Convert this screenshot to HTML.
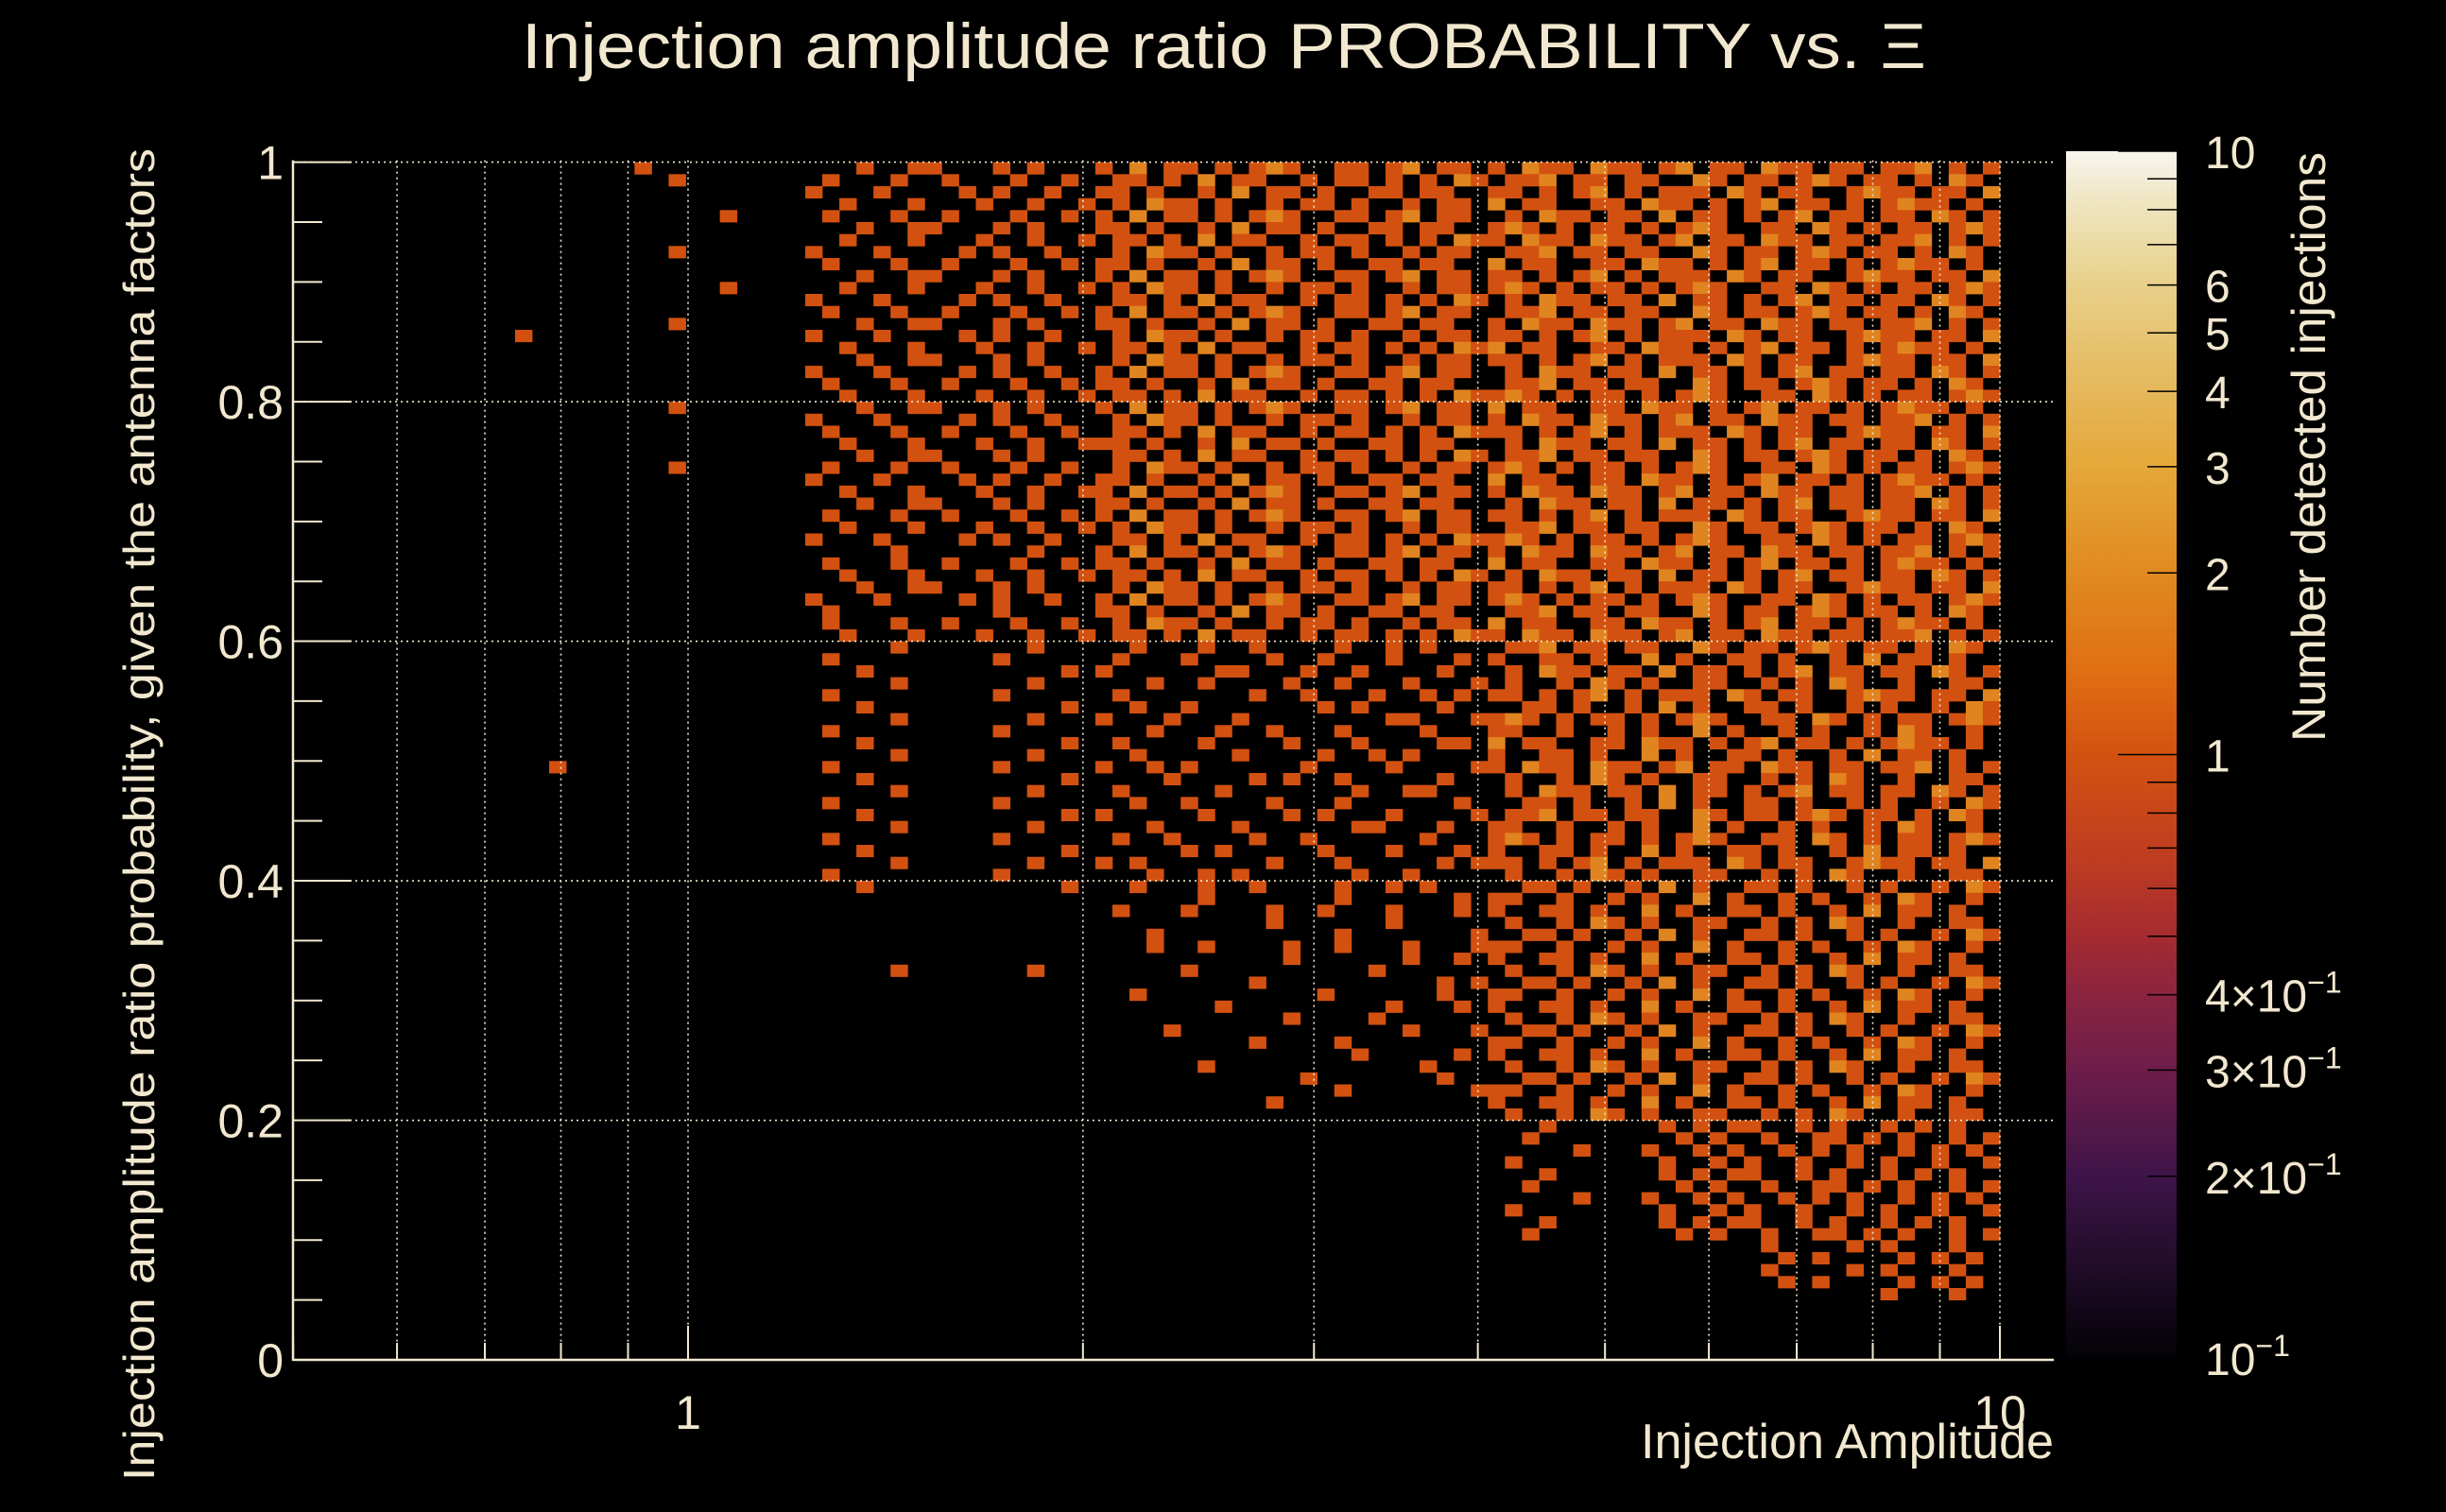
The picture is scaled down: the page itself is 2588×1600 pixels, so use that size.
<!DOCTYPE html>
<html><head><meta charset="utf-8"><style>
html,body{margin:0;padding:0;background:#000;}
svg{display:block}
text{font-family:"Liberation Sans",sans-serif;fill:#f2e8cf}
</style></head><body>
<svg id="chart" width="2588" height="1600" viewBox="0 0 2588 1600" xmlns="http://www.w3.org/2000/svg">
<rect width="2588" height="1600" fill="#000"/>
<g id="cells"></g>
<g id="grid"></g>
<g id="axes"></g>
<g id="cbar"></g>
<text x="1295" y="72" font-size="68" text-anchor="middle" textLength="1486" lengthAdjust="spacingAndGlyphs">Injection amplitude ratio PROBABILITY vs.  Ξ</text>
<text transform="translate(163,862) rotate(-90)" font-size="46" text-anchor="middle" textLength="1410" lengthAdjust="spacingAndGlyphs">Injection amplitude ratio probability, given the antenna factors</text>
<text x="2173" y="1543" font-size="52" text-anchor="end" textLength="437" lengthAdjust="spacingAndGlyphs">Injection Amplitude</text>
<text transform="translate(2460,473) rotate(-90)" font-size="50" text-anchor="middle" textLength="624" lengthAdjust="spacingAndGlyphs">Number detected injections</text>
</svg>
<script>
// ---- data ----
const xMin = 0.5, xMax = 10, nX = 100;
const yMin = 0, yMax = 1, nY = 100;
const xTickValues = [1, 10];
const xTickLabels = ["1", "10"];
const yTickValues = [0, 0.2, 0.4, 0.6, 0.8, 1];
const yTickLabels = ["0", "0.2", "0.4", "0.6", "0.8", "1"];
const zTickValues = [10, 6, 5, 4, 3, 2, 1, 0.4, 0.3, 0.2, 0.1];
const zTickLabels = ["10", "6", "5", "4", "3", "2", "1", "4×10", "3×10", "2×10", "10"];
const zTickExp = ["", "", "", "", "", "", "", "−1", "−1", "−1", "−1"];
// counts per bin; rows from top (y=1) to bottom (y=0), columns from x=0.5 to x=10
const counts = [
"00000000000000000000|1000000000|00010011000101000|10201101012100110120110|102110211012011021101101120101",
"00000000000000000000|0010000000|01000100100010010|01101020110010110101021|011201101100210110121011010210",
"00000000000000000000|0000000000|10001000010100100|11010010201101001101100|110101201011102101100121101102",
"00000000000000000000|0000000000|00100010001001001|01021101001011010010110|201100110211010120110101211010",
"00000000000000000000|0000010000|01000100100010010|10201101012100110120110|010211011020110101201101102101",
"00000000000000000000|0000000000|00010011000101000|11010010201101001101100|121010110101210011021010110121",
"00000000000000000000|0000000000|00100010001001001|01101020110010110101021|102110211012011021101101120101",
"00000000000000000000|0010000000|10001000010100100|01021101001011010010110|011201101100210110121011010210",
"00000000000000000000|0000000000|01000100100010010|11010010201101001101100|201100110211010120110101211010",
"00000000000000000000|0000000000|00010011000101000|10201101012100110120110|110101201011102101100121101102",
"00000000000000000000|0000010000|00100010001001001|01021101001011010010110|121010110101210011021010110121",
"00000000000000000000|0000000000|10001000010100100|01101020110010110101021|010211011020110101201101102101",
"00000000000000000000|0000000000|01000100100010010|10201101012100110120110|011201101100210110121011010210",
"00000000000000000000|0010000000|00010011000101000|11010010201101001101100|102110211012011021101101120101",
"00000000000001000000|0000000000|10001000010100100|01021101001011010010110|110101201011102101100121101102",
"00000000000000000000|0000000000|00100010001001001|01101020110010110101021|201100110211010120110101211010",
"00000000000000000000|0000000000|00010011000101000|01021101001011010010110|110101201011102101100121101102",
"00000000000000000000|0000000000|10001000010100100|10201101012100110120110|010211011020110101201101102101",
"00000000000000000000|0000000000|01000100100010010|11010010201101001101100|011201101100210110121011010210",
"00000000000000000000|0000000000|00100010001001001|01101020110010110101021|121010110101210011021010110121",
"00000000000000000000|0010000000|00010011000101000|10201101012100110120110|201100110211010120110101211010",
"00000000000000000000|0000000000|10001000010100100|01021101001011010010110|102110211012011021101101120101",
"00000000000000000000|0000000000|01000100100010010|01101020110010110101021|110101201011102101100121101102",
"00000000000000000000|0000000000|00100010001001001|11010010201101001101100|010211011020110101201101102101",
"00000000000000000000|0000000000|00010011000101000|01101020110010110101021|011201101100210110121011010210",
"00000000000000000000|0010000000|01000100100010010|01021101001011010010110|121010110101210011021010110121",
"00000000000000000000|0000000000|10001000010100100|11010010201101001101100|201100110211010120110101211010",
"00000000000000000000|0000000000|00100010001001001|10201101012100110120110|102110211012011021101101120101",
"00000000000000000000|0000000000|00010011000101000|11010010201101001101100|010211011020110101201101102101",
"00000000000000000000|0000000000|01000100100010010|10201101012100110120110|110101201011102101100121101102",
"00000000000000000000|0000000000|00100010001001001|01021101001011010010110|011201101100210110121011010210",
"00000000000000000000|0000000000|10001000010100100|01101020110010110101021|121010110101210011021010110121",
"00000000000000000000|0000000000|00000100000001000|10201101012100110120110|102110211012011021101101120101",
"00000000000000000000|0000000000|01000100100010010|11010010201101001101100|201100110211010120110101211010",
"00000000000000000000|0000000000|00100010001001001|01101020110010110101021|010211011020110101201101102101",
"00000000000000000000|0000000000|00010011000101000|01021101001011010010110|110101201011102101100121101102",
"00000000000000000000|0000000000|10001000010100100|10201101012100110120110|121010110101210011021010110121",
"00000000000000000000|0000000000|01000000000100000|11010010201101001101100|011201101100210110121011010210",
"00000000000000000000|0000000000|01000100100010010|01021101001011010010110|201100110211010120110101211010",
"00000000000000000000|0000000000|00100010001001001|01101020110010110101021|102110211012011021101101120101",
"00000000000000000000|0000000000|00000100000001000|00100010010000100101000|011201101100210110121011010210",
"00000000000000000000|0000000000|01000000000100000|01000100001001000100010|100110100201001101001020110100",
"00000000000000000000|0000000000|00010000000000010|10000001100010010000100|010211011020110101201101102101",
"00000000000000000000|0000000000|00000100000001000|00010010000100100010001|010010210100110010102100100110",
"00000000000000000000|0000000000|01000000000100000|01000000010010001001010|110101201011102101100121101102",
"00000000000000000000|0000000000|00010000000000010|00100100000001010000100|001101001020100110100101001021",
"00000000000000000000|0000000000|00000100000001000|10001000100000000110001|121010110101210011021010110121",
"00000000000000000000|0000000000|01000000000100000|00010001001000100001000|110010010100201001010010210010",
"00000000000000000000|0000000000|00010000000000010|01000010000100010000110|201100110211010120110101211010",
"00000000000000000000|0000000000|00000100000001000|00100000100001001010000|100110100201001101001020110100",
"00000000000000010000|0000000000|01000000000100000|10010100000010000100001|102110211012011021101101120101",
"00000000000000000000|0000000000|00010000000000010|00001000010100100000100|010010210100110010102100100110",
"00000000000000000000|0000000000|00000100000001000|01000001000000010011000|010211011020110101201101102101",
"00000000000000000000|0000000000|01000000000100000|00100100001000100000010|001101001020100110100101001021",
"00000000000000000000|0000000000|00010000000000010|10000010000101000100001|011201101100210110121011010210",
"00000000000000000000|0000000000|00000100000001000|00010000100000011000100|110010010100201001010010210010",
"00000000000000000000|0000000000|01000000000100000|01001000010010000001000|121010110101210011021010110121",
"00000000000000000000|0000000000|00010000000000010|00000101000001000100010|100110100201001101001020110100",
"00000000000000000000|0000000000|00000100000001000|10100000001000100000101|110101201011102101100121101102",
"00000000000000000000|0000000000|01000000000100000|00010010100000010010000|010010210100110010102100100110",
"00000000000000000000|0000000000|00010000000000010|00100010010000100101000|001101001020100110100101001021",
"00000000000000000000|0000000000|00000000000000000|00000010000000100000010|110010010100201001010010210010",
"00000000000000000000|0000000000|00000000000000000|01000100001001000100010|100110100201001101001020110100",
"00000000000000000000|0000000000|00000000000000000|00000000001000000100000|010010210100110010102100100110",
"00000000000000000000|0000000000|00000000000000000|00010000000000100000001|001101001020100110100101001021",
"00000000000000000000|0000000000|00000000000000000|00010010000100100010001|110010010100201001010010210010",
"00000000000000000000|0000000000|00000000000000000|00000000000100000010010|100110100201001101001020110100",
"00000000000000000000|0000000000|00000100000001000|00000100000000001000000|010010210100110010102100100110",
"00000000000000000000|0000000000|00000000000000000|00000000010000000000101|001101001020100110100101001021",
"00000000000000000000|0000000000|00000000000000000|00100000000001000000100|110010010100201001010010210010",
"00000000000000000000|0000000000|00000000000000000|00000001000000000100010|100110100201001101001020110100",
"00000000000000000000|0000000000|00000000000000000|00000000000100001000000|010010210100110010102100100110",
"00000000000000000000|0000000000|00000000000000000|00001000000000000010001|001101001020100110100101001021",
"00000000000000000000|0000000000|00000000000000000|00000000010000100000000|110010010100201001010010210010",
"00000000000000000000|0000000000|00000000000000000|00000000000000010000010|100110100201001101001020110100",
"00000000000000000000|0000000000|00000000000000000|00000010000000000001000|010010210100110010102100100110",
"00000000000000000000|0000000000|00000000000000000|00000000000010000000100|001101001020100110100101001021",
"00000000000000000000|0000000000|00000000000000000|00000000000000100000001|110010010100201001010010210010",
"00000000000000000000|0000000000|00000000000000000|00000000001000000000000|100110100201001101001020110100",
"00000000000000000000|0000000000|00000000000000000|00000000000000000000000|010010210100110010102100100110",
"00000000000000000000|0000000000|00000000000000000|00000000000000000000000|000100000010101100101001010100",
"00000000000000000000|0000000000|00000000000000000|00000000000000000000000|001000000001010010011010100101",
"00000000000000000000|0000000000|00000000000000000|00000000000000000000000|000001000100101001010100101010",
"00000000000000000000|0000000000|00000000000000000|00000000000000000000000|010000000010010100100101001001",
"00000000000000000000|0000000000|00000000000000000|00000000000000000000000|000100000010101100101001010100",
"00000000000000000000|0000000000|00000000000000000|00000000000000000000000|001000000001010010011010100101",
"00000000000000000000|0000000000|00000000000000000|00000000000000000000000|000001000100101001010100101010",
"00000000000000000000|0000000000|00000000000000000|00000000000000000000000|010000000010010100100101001001",
"00000000000000000000|0000000000|00000000000000000|00000000000000000000000|000100000010101100101001010100",
"00000000000000000000|0000000000|00000000000000000|00000000000000000000000|001000000001010010011010100101",
"00000000000000000000|0000000000|00000000000000000|00000000000000000000000|000000000000000010000101000100",
"00000000000000000000|0000000000|00000000000000000|00000000000000000000000|000000000000000001010000101010",
"00000000000000000000|0000000000|00000000000000000|00000000000000000000000|000000000000000010000101000100",
"00000000000000000000|0000000000|00000000000000000|00000000000000000000000|000000000000000001010000101010",
"00000000000000000000|0000000000|00000000000000000|00000000000000000000000|000000000000000000000001000100",
"", "", "", "", ""
];
// ---- layout ----
const X0 = 728, DEC = 1388;
const YB = 1439, YT = 171.6;
const AX_L = 310, AX_R = 2173;
const CB_L = 2186, CB_R = 2303, CB_T = 160, CB_B = 1437;
const NS = "http://www.w3.org/2000/svg";
function xPix(v){ return X0 + Math.log10(v) * DEC; }
function yPix(v){ return YB - (v - yMin) / (yMax - yMin) * (YB - YT); }
function zPix(v){ return CB_B - (Math.log10(v) + 1) / 2 * (CB_B - CB_T); }
function mk(tag, attrs, parent){ const e = document.createElementNS(NS, tag); for (const k in attrs) e.setAttribute(k, attrs[k]); parent.appendChild(e); return e; }
const cellColors = ["#000000", "#d35110", "#e08420", "#e5a333", "#e7c060", "#ead07e"];

const gCells = document.getElementById('cells');
const lx0 = Math.log10(xMin), lx1 = Math.log10(xMax);
counts.forEach((rowStr, r) => {
  const row = rowStr.replace(/\|/g, '');
  const yHi = yMax - r * (yMax - yMin) / nY, yLo = yHi - (yMax - yMin) / nY;
  for (let c = 0; c < nX && c < row.length; c++) {
    const n = parseInt(row[c], 10);
    if (!n) continue;
    const xa = Math.pow(10, lx0 + c * (lx1 - lx0) / nX), xb = Math.pow(10, lx0 + (c + 1) * (lx1 - lx0) / nX);
    const x1 = xPix(xa), x2 = xPix(xb), y1 = yPix(yHi), y2 = yPix(yLo);
    const rc = mk('rect', {x: x1.toFixed(2), y: y1.toFixed(2), width: (x2 - x1 + 0.4).toFixed(2), height: (y2 - y1 + 0.4).toFixed(2), fill: cellColors[Math.min(n, 5)]}, gCells);
    
    
  }
});

const gGrid = document.getElementById('grid');
const gridXs = [0.6,0.7,0.8,0.9,1,2,3,4,5,6,7,8,9,10];
gridXs.forEach(v => {
  const l = mk('line', {x1: xPix(v), x2: xPix(v), y1: YT - 2, y2: YB, stroke: '#f2e8cf', 'stroke-width': 1.6, 'stroke-dasharray': '2 4'}, gGrid);
  
  
});
yTickValues.slice(1).forEach(v => {
  const l = mk('line', {x1: AX_L, x2: AX_R, y1: yPix(v), y2: yPix(v), stroke: '#f2e8cf', 'stroke-width': 1.6, 'stroke-dasharray': '2 4'}, gGrid);
  
  
});

const gAx = document.getElementById('axes');
const yAxis = mk('line', {x1: AX_L, x2: AX_L, y1: YT - 2, y2: YB + 1, stroke: '#f2e8cf', 'stroke-width': 2.5}, gAx);


const xAxis = mk('line', {x1: AX_L, x2: AX_R, y1: YB, y2: YB, stroke: '#f2e8cf', 'stroke-width': 2.5}, gAx);


for (let i = 0; i <= 20; i++) {
  const v = i * 0.05, major = i % 4 === 0;
  const t = mk('line', {x1: AX_L, x2: AX_L + (major ? 62 : 31), y1: yPix(v), y2: yPix(v), stroke: '#f2e8cf', 'stroke-width': 2}, gAx);
  
  
}
yTickValues.forEach((v, i) => {
  const t = mk('text', {x: 300, y: yPix(v) + 18, 'font-size': 50, 'text-anchor': 'end'}, gAx);
  t.textContent = yTickLabels[i];
  
  
});
[0.5,0.6,0.7,0.8,0.9,1,2,3,4,5,6,7,8,9,10].forEach(v => {
  const major = (v === 1 || v === 10);
  const t = mk('line', {x1: xPix(v), x2: xPix(v), y1: YB, y2: YB - (major ? 36 : 18), stroke: '#f2e8cf', 'stroke-width': 2}, gAx);
  
  
});
xTickValues.forEach((v, i) => {
  const t = mk('text', {x: xPix(v), y: 1512, 'font-size': 50, 'text-anchor': 'middle'}, gAx);
  t.textContent = xTickLabels[i];
  
  
});

const gCb = document.getElementById('cbar');
const defs = mk('defs', {}, gCb);
const grad = mk('linearGradient', {id: 'cbg', x1: 0, y1: 1, x2: 0, y2: 0}, defs);
[[0,'#030206'],[0.06,'#1a0a22'],[0.15,'#3e1448'],[0.24,'#6e1d4a'],[0.3,'#8a2440'],[0.35,'#a52b30'],[0.42,'#c03e20'],[0.5,'#d35210'],[0.57,'#e06f14'],[0.65,'#e08a20'],[0.74,'#e5a83a'],[0.8,'#e5b75a'],[0.89,'#e8d08a'],[0.96,'#f0e6c4'],[1,'#f7f5ef']].forEach(s => {
  mk('stop', {offset: s[0], 'stop-color': s[1]}, grad);
});
const cbRect = mk('rect', {x: CB_L, y: CB_T, width: CB_R - CB_L, height: CB_B - CB_T, fill: 'url(#cbg)'}, gCb);


[1,2,3,4,5,6,7,8,9,10,0.2,0.3,0.4,0.5,0.6,0.7,0.8,0.9].forEach(v => {
  const major = (v === 1 || v === 10);
  const t = mk('line', {x1: CB_R - (major ? 62 : 31), x2: CB_R, y1: zPix(v), y2: zPix(v), stroke: '#000', 'stroke-width': 1.5}, gCb);
  
  
});
zTickValues.forEach((v, i) => {
  const t = mk('text', {x: 2333, y: zPix(v) + 18, 'font-size': 48}, gCb);
  t.textContent = zTickLabels[i];
  if (zTickExp[i]) {
    const s = mk('tspan', {dy: -20, 'font-size': 32}, t);
    s.textContent = zTickExp[i];
  }
  
  
});
</script>
</body></html>
